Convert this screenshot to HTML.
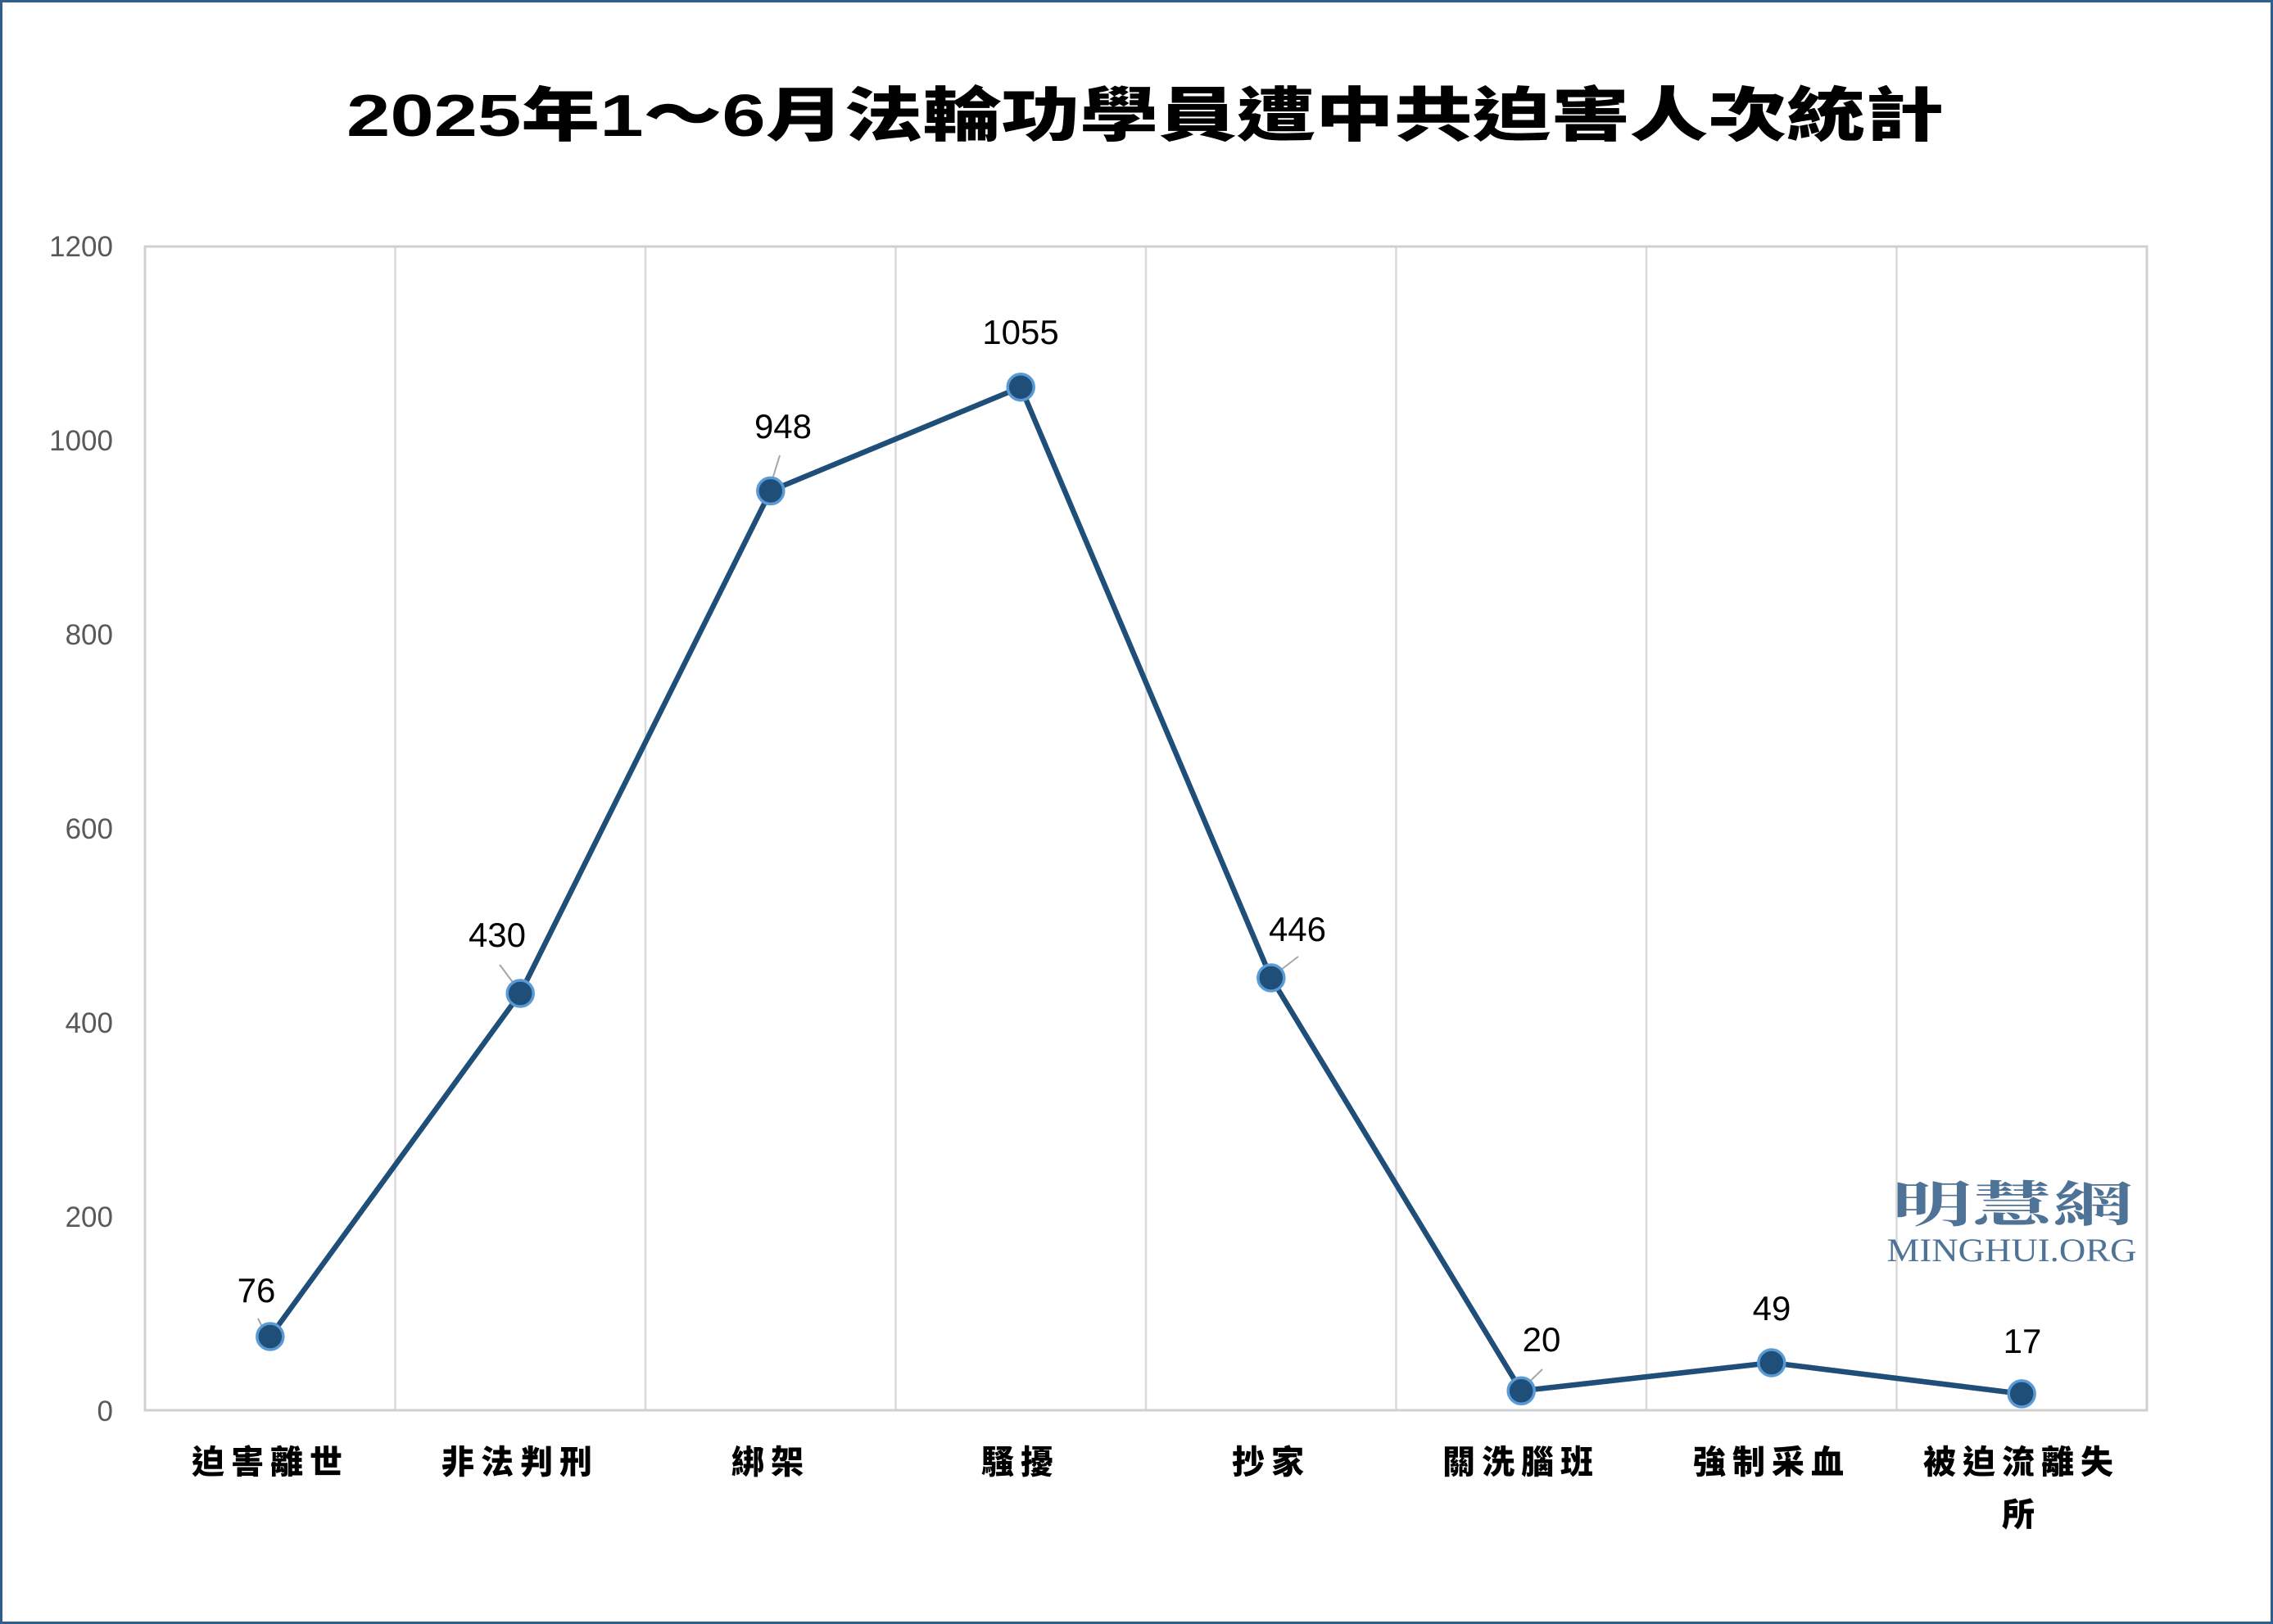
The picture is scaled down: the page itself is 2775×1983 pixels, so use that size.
<!DOCTYPE html>
<html><head><meta charset="utf-8"><style>
html,body{margin:0;padding:0;background:#fff}
svg{display:block}
</style></head><body>
<svg width="2775" height="1983" viewBox="0 0 2775 1983" xmlns="http://www.w3.org/2000/svg">
<rect x="1.5" y="1.5" width="2772" height="1980" fill="#fff" stroke="#2f5f8f" stroke-width="3"/>
<text x="1398" y="166" text-anchor="middle" font-family="'Liberation Sans','Noto Sans CJK TC',sans-serif" font-weight="900" font-size="72" fill="#000" textLength="1950" lengthAdjust="spacingAndGlyphs">2025年1～6月法輪功學員遭中共迫害人次統計</text>
<g stroke="#d9d9d9" stroke-width="2.5">
<line x1="482.5" y1="301" x2="482.5" y2="1722"/>
<line x1="788" y1="301" x2="788" y2="1722"/>
<line x1="1093.5" y1="301" x2="1093.5" y2="1722"/>
<line x1="1399" y1="301" x2="1399" y2="1722"/>
<line x1="1704.5" y1="301" x2="1704.5" y2="1722"/>
<line x1="2010" y1="301" x2="2010" y2="1722"/>
<line x1="2315.5" y1="301" x2="2315.5" y2="1722"/>
</g>
<rect x="177" y="301" width="2444" height="1421" fill="none" stroke="#d0d0d0" stroke-width="3"/>
<g font-family="'Liberation Sans',sans-serif" font-size="35" fill="#595959" text-anchor="end">
<text x="138" y="313">1200</text>
<text x="138" y="550">1000</text>
<text x="138" y="787">800</text>
<text x="138" y="1024">600</text>
<text x="138" y="1261">400</text>
<text x="138" y="1498">200</text>
<text x="138" y="1735">0</text>
</g>
<g font-family="'Noto Serif CJK SC','Noto Sans CJK TC',serif" font-size="60" fill="#4f7396" font-weight="700">
<text x="2457" y="1492" text-anchor="middle" textLength="295" lengthAdjust="spacingAndGlyphs">明慧網</text>
</g>
<text x="2456" y="1540" text-anchor="middle" font-family="'Liberation Serif',serif" font-size="40" fill="#4f7396" textLength="305" lengthAdjust="spacingAndGlyphs">MINGHUI.ORG</text>
<g stroke="#a6a6a6" stroke-width="2">
<line x1="315" y1="1610" x2="328" y2="1636"/>
<line x1="610" y1="1178" x2="634" y2="1210"/>
<line x1="952" y1="556" x2="939" y2="598"/>
<line x1="1585" y1="1168" x2="1551" y2="1194"/>
<line x1="1883" y1="1672" x2="1856" y2="1698"/>
</g>
<polyline fill="none" stroke="#1f4e79" stroke-width="6.5" stroke-linejoin="round" points="329.8,1632 635.2,1213 940.8,599.4 1246.2,472.7 1551.8,1194 1857.2,1698.3 2162.8,1664 2468.2,1701.9"/>
<g fill="#1f4e79" stroke="#5b9bd5" stroke-width="3.5">
<circle cx="329.8" cy="1632" r="16"/><circle cx="635.2" cy="1213" r="16"/><circle cx="940.8" cy="599.4" r="16"/><circle cx="1246.2" cy="472.7" r="16"/><circle cx="1551.8" cy="1194" r="16"/><circle cx="1857.2" cy="1698.3" r="16"/><circle cx="2162.8" cy="1664" r="16"/><circle cx="2468.2" cy="1701.9" r="16"/>
</g>
<g font-family="'Liberation Sans',sans-serif" font-size="42" fill="#000" text-anchor="middle">
<text x="313" y="1590">76</text>
<text x="607" y="1156">430</text>
<text x="956" y="535">948</text>
<text x="1246" y="420">1055</text>
<text x="1584" y="1149">446</text>
<text x="1882" y="1650">20</text>
<text x="2163" y="1612">49</text>
<text x="2469" y="1652">17</text>
</g>
<g font-family="'Liberation Sans','Noto Sans CJK TC',sans-serif" font-weight="900" font-size="40" fill="#000" text-anchor="middle" letter-spacing="8">
<text x="330" y="1799">迫害離世</text>
<text x="635" y="1799">非法判刑</text>
<text x="941" y="1799">綁架</text>
<text x="1246" y="1799">騷擾</text>
<text x="1552" y="1799">抄家</text>
<text x="1857" y="1799">關洗腦班</text>
<text x="2163" y="1799">強制采血</text>
<text x="2468" y="1799">被迫流離失</text>
<text x="2468" y="1863">所</text>
</g>
</svg>
</body></html>
